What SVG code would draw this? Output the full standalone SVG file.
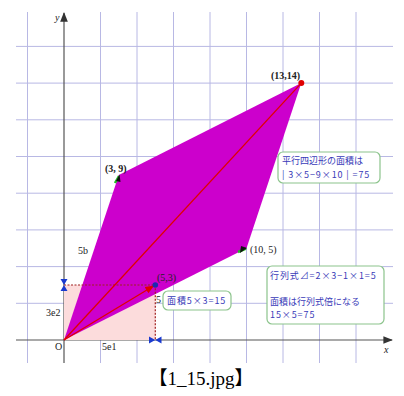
<svg xmlns="http://www.w3.org/2000/svg" width="404" height="396" viewBox="0 0 404 396">
<style>
.grid line{stroke:#b8b8e4;stroke-width:1}
.axis{stroke:#555;stroke-width:1.2;fill:none}
.lbl{font-family:"Liberation Serif","Noto Sans CJK JP",serif;font-size:10px;fill:#222}
.jp{font-family:"Noto Sans CJK JP","Noto Sans",sans-serif;font-size:9px;fill:#3a3ab8}
.sp{letter-spacing:0.9px}
.box{fill:#fff;stroke:#8cc48c;stroke-width:1.2}
.red{stroke:#e00000;stroke-width:1.3;fill:none}
</style>
<defs>
<marker id="ah" viewBox="0 0 10 10" refX="9" refY="5" markerWidth="7" markerHeight="7" orient="auto"><path d="M0,1 L10,5 L0,9 z" fill="#e00000"/></marker>
<marker id="ax" viewBox="0 0 10 10" refX="9" refY="5" markerWidth="8" markerHeight="8" orient="auto"><path d="M0,1 L10,5 L0,9 z" fill="#333"/></marker>
</defs>
<rect width="404" height="396" fill="#fff"/>
<g class="grid">
<line x1="27.5" y1="12" x2="27.5" y2="363"/>
<line x1="100.5" y1="12" x2="100.5" y2="363"/>
<line x1="137" y1="12" x2="137" y2="363"/>
<line x1="173.5" y1="12" x2="173.5" y2="363"/>
<line x1="210" y1="12" x2="210" y2="363"/>
<line x1="246.5" y1="12" x2="246.5" y2="363"/>
<line x1="283" y1="12" x2="283" y2="363"/>
<line x1="319.5" y1="12" x2="319.5" y2="363"/>
<line x1="356" y1="12" x2="356" y2="363"/>
<line x1="16" y1="303.3" x2="393" y2="303.3"/>
<line x1="16" y1="266.6" x2="393" y2="266.6"/>
<line x1="16" y1="229.9" x2="393" y2="229.9"/>
<line x1="16" y1="193.2" x2="393" y2="193.2"/>
<line x1="16" y1="156.5" x2="393" y2="156.5"/>
<line x1="16" y1="119.8" x2="393" y2="119.8"/>
<line x1="16" y1="83.1" x2="393" y2="83.1"/>
<line x1="16" y1="46.4" x2="393" y2="46.4"/>
</g>
<g id="axes">
<line class="axis" x1="64" y1="363" x2="64" y2="13" marker-end="url(#ax)"/>
<line class="axis" x1="16" y1="340" x2="392" y2="340" marker-end="url(#ax)"/>
<text class="lbl" x="55" y="21" font-style="italic">y</text>
<text class="lbl" x="384" y="353" font-style="italic">x</text>
<text class="lbl" x="55" y="350" fill="#666">O</text>
</g>
<g id="rect53">
<rect x="64" y="285" width="91.3" height="55" fill="#fcdcdc"/>
</g>
<g id="parallelogram">
<polygon points="64,340 246.5,248.2 301.3,83.1 118.8,174.9" fill="#cc00cc"/>
</g>
<g id="connectors">
<path d="M64,285 H155.3 V340" fill="none" stroke="#a02020" stroke-width="1.2" stroke-dasharray="2,1.5"/>
<line class="red" x1="64" y1="340" x2="301.3" y2="83.1"/>
<line class="red" x1="64" y1="340" x2="153.5" y2="286" marker-end="url(#ah)"/>
</g>
<g id="points">
<circle cx="301.3" cy="83.1" r="3" fill="#e00000"/>
<circle cx="155.3" cy="285" r="2.8" fill="#1a2ab0"/>
<path d="M60.5,279 L67.5,279 L64,285 L67.5,291 L60.5,291 L64,285 z" fill="#1a3ad0"/>
<path d="M149,336.5 L149,343.5 L155.3,340 L161.5,343.5 L161.5,336.5 L155.3,340 z" fill="#1a3ad0"/>
<line x1="115" y1="183" x2="119" y2="176" stroke="#22bb22" stroke-width="2.5"/>
<path d="M116,181 L119.5,174.5 L120.5,182 z" fill="#111"/>
<line x1="238" y1="252" x2="246" y2="248.5" stroke="#22bb22" stroke-width="2.5"/>
<path d="M240,253 L247,248 L241,246 z" fill="#111"/>
</g>
<g id="labels">
<text class="lbl" x="271" y="79" font-weight="bold">(13,14)</text>
<text class="lbl" x="105" y="172" font-weight="bold">(3, 9)</text>
<text class="lbl" x="250" y="253">(10, 5)</text>
<text class="lbl" x="157" y="281">(5,3)</text>
<text class="lbl" x="78" y="254">5b</text>
<text class="lbl" x="46" y="316">3e2</text>
<text class="lbl" x="102" y="350">5e1</text>
<text class="lbl" x="156" y="303">5</text>
</g>
<g id="box1">
<rect class="box" x="278" y="152" width="102" height="31" rx="5"/>
<text class="jp" x="282" y="164">平行四辺形の面積は</text>
<text class="jp sp" x="282" y="178">| 3×5−9×10 | =75</text>
</g>
<g id="box2">
<rect class="box" x="163" y="291" width="68" height="19" rx="5"/>
<text class="jp sp" x="167" y="304" font-size="10">面積5×3=15</text>
</g>
<g id="box3">
<rect class="box" x="267" y="266" width="117" height="58" rx="5"/>
<text class="jp sp" x="270" y="279">行列式⊿=2×3−1×1=5</text>
<text class="jp" x="270" y="305">面積は行列式倍になる</text>
<text class="jp sp" x="270" y="318">15×5=75</text>
</g>
<text x="201" y="385" text-anchor="middle" font-family="Liberation Serif,Noto Sans CJK JP,serif" font-size="19" fill="#000">【1_15.jpg】</text>
</svg>
